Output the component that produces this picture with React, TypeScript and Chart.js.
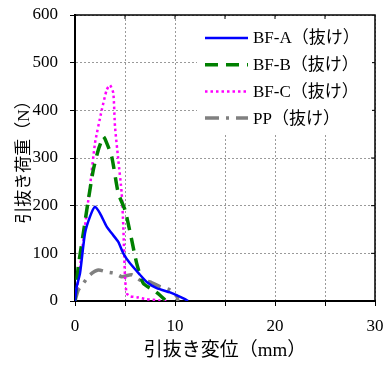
import React, { useEffect, useRef } from 'react';
import { Chart, registerables } from 'chart.js';

Chart.register(...registerables);

const SERIF = '"Liberation Serif", "Times New Roman", "Noto Sans CJK JP", serif';

const seriesLabels = ['BF-A（抜け）', 'BF-B（抜け）', 'BF-C（抜け）', 'PP（抜け）'];

const bfaX = [0, 0.17, 0.5, 1.0, 1.5, 2.0, 2.5, 3.17, 3.67, 4.33, 4.83, 5.5, 6.5, 7.17, 8.17, 9.5, 10.2, 11.0, 11.3];
const bfaY = [0, 30, 58, 142, 177, 198, 184, 156, 142, 124, 100, 79, 55, 40, 27, 18, 12, 4, 0];

const bfbX = [0, 0.33, 0.83, 1.33, 1.83, 2.33, 2.83, 3.0, 3.67, 4.33, 5.0, 5.67, 6.17, 6.83, 7.83, 8.5, 9.0];
const bfbY = [0, 72, 142, 212, 275, 317, 345, 340, 303, 226, 191, 128, 79, 37, 23, 12, 2];

const bfcX = [0, 0.33, 1.0, 1.5, 2.0, 2.67, 3.17, 3.5, 3.83, 4.0, 4.33, 4.67, 4.83, 5.0, 5.17, 5.5, 6.17, 7.17, 8.5, 9.2];
const bfcY = [0, 44, 156, 240, 331, 400, 443, 453, 436, 366, 296, 226, 156, 51, 16, 10, 8, 4, 1, 0];

const ppX = [0, 0.33, 0.83, 1.5, 2.33, 3.17, 4.0, 4.67, 5.67, 6.5, 7.5, 8.5, 9.5, 10.2, 10.3];
const ppY = [0, 23, 37, 55, 65, 61, 58, 51, 55, 44, 40, 30, 23, 9, 0];

const xMin = 0, xMax = 30, xStep = 5, xLabelStep = 10;
const yMin = 0, yMax = 600, yStep = 100;

const xTitle = '引抜き変位（mm）';
const yTitle = '引抜き荷重（N）';

const zip = (xs: number[], ys: number[]) => xs.map((x, i) => ({ x, y: ys[i] }));

const framePlugin = {
  id: 'frame',
  afterDatasetsDraw(chart: any) {
    const { ctx, chartArea, scales } = chart;
    ctx.save();
    ctx.strokeStyle = '#000';
    ctx.lineWidth = 1.5;
    ctx.setLineDash([]);
    ctx.beginPath();
    ctx.moveTo(chartArea.left, chartArea.top);
    ctx.lineTo(chartArea.right, chartArea.top);
    ctx.lineTo(chartArea.right, chartArea.bottom);
    ctx.stroke();
    ctx.lineWidth = 1;
    ctx.beginPath();
    for (let v = xMin + xStep; v < xMax; v += xStep) {
      const px = scales.x.getPixelForValue(v);
      ctx.moveTo(px, chartArea.top);
      ctx.lineTo(px, chartArea.top + 4);
    }
    for (let v = yMin + yStep; v < yMax; v += yStep) {
      const py = scales.y.getPixelForValue(v);
      ctx.moveTo(chartArea.right, py);
      ctx.lineTo(chartArea.right - 4, py);
    }
    ctx.stroke();
    ctx.restore();
  },
};

const legendPlugin = {
  id: 'boxLegend',
  afterDraw(chart: any) {
    const { ctx, chartArea } = chart;
    const bw = 175, bh = 114;
    const bx = chartArea.right - bw - 3;
    const by = chartArea.top + 4;
    ctx.save();
    ctx.fillStyle = '#fff';
    ctx.fillRect(bx, by, bw, bh);
    chart.data.datasets.forEach((ds: any, i: number) => {
      const y = by + 19 + i * 26.7;
      ctx.beginPath();
      ctx.setLineDash(ds.borderDash || []);
      ctx.lineWidth = ds.borderWidth;
      ctx.strokeStyle = ds.borderColor;
      ctx.lineCap = ds.borderCapStyle || 'butt';
      ctx.moveTo(bx + 8, y);
      ctx.lineTo(bx + 51, y);
      ctx.stroke();
      ctx.setLineDash([]);
      ctx.fillStyle = '#000';
      ctx.font = `17px ${SERIF}`;
      ctx.textBaseline = 'middle';
      ctx.textAlign = 'left';
      ctx.fillText(ds.label, bx + 56, y + 1);
    });
    ctx.restore();
  },
};

const zeroPad = (s: any) => {
  s.paddingTop = 0;
  s.paddingBottom = 0;
  s.paddingLeft = 0;
  s.paddingRight = 0;
};

export default function App() {
  const ref = useRef<HTMLCanvasElement | null>(null);
  useEffect(() => {
    document.body.style.margin = '0';
    const canvas = ref.current;
    if (!canvas) return;
    const chart = new Chart(canvas, {
      type: 'line',
      data: {
        datasets: [
          {
            label: seriesLabels[0],
            data: zip(bfaX, bfaY),
            borderColor: '#0000ff',
            borderWidth: 2.5,
            pointRadius: 0,
            tension: 0.2,
          },
          {
            label: seriesLabels[1],
            data: zip(bfbX, bfbY),
            borderColor: '#008000',
            borderWidth: 3.5,
            borderDash: [13, 8],
            pointRadius: 0,
            tension: 0.2,
          },
          {
            label: seriesLabels[2],
            data: zip(bfcX, bfcY),
            borderColor: '#ff00ff',
            borderWidth: 2.5,
            borderDash: [2.5, 3],
            pointRadius: 0,
            tension: 0.2,
          },
          {
            label: seriesLabels[3],
            data: zip(ppX, ppY),
            borderColor: '#808080',
            borderWidth: 3.5,
            borderDash: [14, 7, 3, 7],
            pointRadius: 0,
            tension: 0.2,
          },
        ] as any,
      },
      options: {
        animation: false,
        responsive: false,
        maintainAspectRatio: false,
        layout: { padding: { top: 15, right: 12, left: 0, bottom: 0 } },
        plugins: { legend: { display: false }, tooltip: { enabled: false } },
        scales: {
          x: {
            type: 'linear',
            min: xMin,
            max: xMax,
            afterFit: (s: any) => { s.height = 64; zeroPad(s); },
            ticks: {
              stepSize: xStep,
              autoSkip: false,
              maxRotation: 0,
              padding: 10,
              color: '#000',
              font: { family: SERIF, size: 17 },
              callback: (v: any) => (Number(v) % xLabelStep === 0 ? String(v) : ''),
            },
            grid: {
              color: '#9a9a9a',
              lineWidth: 1,
              tickLength: 5,
              tickColor: '#000',
              tickWidth: 1,
              tickBorderDash: [],
            },
            border: { display: true, color: '#000', width: 2, dash: [2, 2] },
            title: {
              display: true,
              text: xTitle,
              color: '#000',
              font: { family: SERIF, size: 19 },
              padding: { top: 0, bottom: 3 },
            },
          },
          y: {
            type: 'linear',
            min: yMin,
            max: yMax,
            afterFit: (s: any) => { s.width = 75; zeroPad(s); },
            ticks: {
              stepSize: yStep,
              padding: 12,
              color: '#000',
              font: { family: SERIF, size: 17 },
            },
            grid: {
              color: '#9a9a9a',
              lineWidth: 1,
              tickLength: 5,
              tickColor: '#000',
              tickWidth: 1,
              tickBorderDash: [],
            },
            border: { display: true, color: '#000', width: 2, dash: [2, 2] },
            title: {
              display: true,
              text: yTitle,
              color: '#000',
              font: { family: SERIF, size: 17 },
              padding: { top: 14, bottom: 0 },
            },
          },
        },
      } as any,
      plugins: [framePlugin, legendPlugin],
    });
    return () => chart.destroy();
  }, []);
  return (
    <div style={{ position: 'absolute', left: 0, top: 0, width: 387, height: 365 }}>
      <canvas ref={ref} width={387} height={365} style={{ display: 'block', width: 387, height: 365 }} />
    </div>
  );
}
